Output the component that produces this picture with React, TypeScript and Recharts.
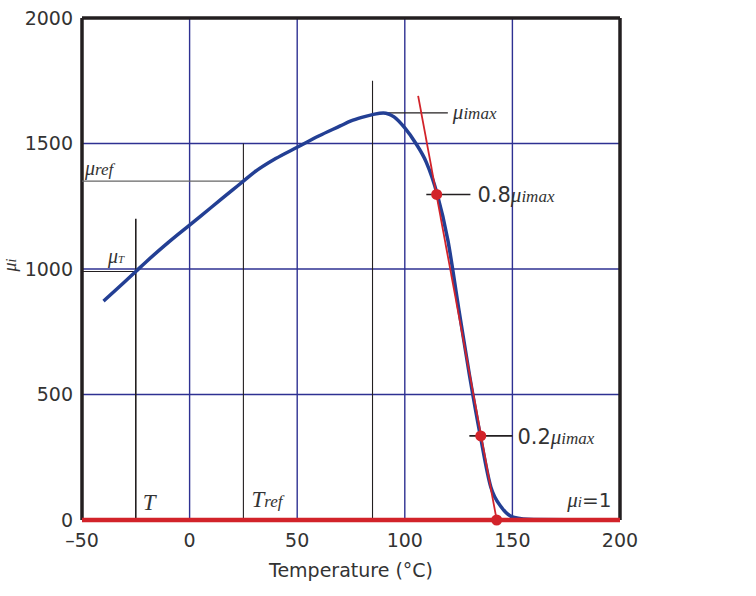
import React from 'react';
import {
  ComposedChart,
  Line,
  XAxis,
  YAxis,
  CartesianGrid,
  ReferenceLine,
  ReferenceDot,
} from 'recharts';

// ---- data ----
const xTicks = [-50, 0, 50, 100, 150, 200];
const yTicks = [0, 500, 1000, 1500, 2000];

const temperature = [-40, -30, -25, -20, -10, 0, 10, 20, 25, 30, 40, 50, 60, 70, 75, 80, 85, 90, 95, 100, 105, 110, 115, 120, 125, 130, 135, 140, 145, 150, 155, 160, 175];
const permeability = [872, 950, 990, 1030, 1105, 1175, 1245, 1315, 1350, 1385, 1440, 1485, 1530, 1570, 1590, 1604, 1615, 1622, 1606, 1562, 1502, 1425, 1300, 1115, 845, 580, 340, 130, 50, 12, 4, 2, 1];

const tangentT = [106.2, 142.7];
const tangentMu = [1690, 0];

const markerT = [114.8, 135.3, 142.7];
const markerMu = [1297, 335, 0];

const muMax = 1622;
const muRef = 1350;
const muAtT = 990;
const tempT = -25;
const tempRef = 25;
const tempMax = 85;

// ---- derived tables ----
const curveData = temperature.map((T, i) => ({ T, mu: permeability[i] }));
const tangentData = tangentT.map((T, i) => ({ T, mu: tangentMu[i] }));
const markers = markerT.map((T, i) => ({ T, mu: markerMu[i] }));

// ---- style ----
const GRID = '#2e3192';
const CURVE = '#233f94';
const RED = '#d2232a';
const BLACK = '#231f20';
const TEXT = '#333333';
const SANS = "'DejaVu Sans', 'Liberation Sans', sans-serif";
const SERIF = "'Liberation Serif', 'DejaVu Serif', serif";

const fmtX = (v: number) => (v < 0 ? '\u2013' + Math.abs(v) : String(v));

const mk = (dx: number, dy: number, render: (x: number, y: number) => React.ReactNode) =>
  (props: any) => {
    const vb = props.viewBox || {};
    return render((vb.x || 0) + dx, (vb.y || 0) + dy);
  };

const Mu = ({ sub, size = 19, subSize = 14 }: { sub: string; size?: number; subSize?: number }) => (
  <>
    <tspan fontSize={size}>{'\u03bc'}</tspan>
    <tspan fontSize={subSize}>{sub}</tspan>
  </>
);

export default function App() {
  return (
    <div style={{ position: 'absolute', left: 0, top: 0, width: 756, height: 596, background: '#fff' }}>
      <ComposedChart
        width={756}
        height={596}
        margin={{ top: 18, right: 136, bottom: 0, left: 0 }}
      >
        <CartesianGrid stroke={GRID} strokeWidth={1.4} />
        <XAxis
          type="number"
          dataKey="T"
          domain={[-50, 200]}
          ticks={xTicks}
          allowDataOverflow
          tickLine={false}
          axisLine={false}
          tickSize={6}
          tickMargin={8}
          height={76}
          tickFormatter={fmtX}
          tick={{ fontFamily: SANS, fontSize: 19, fill: TEXT }}
          label={{
            content: (p: any) => {
              const vb = p.viewBox;
              return (
                <text x={vb.x + vb.width / 2} y={577} textAnchor="middle" fontFamily={SANS} fontSize={19} fill={TEXT}>
                  Temperature (°C)
                </text>
              );
            },
          }}
        />
        <YAxis
          type="number"
          domain={[0, 2000]}
          ticks={yTicks}
          allowDataOverflow
          tickLine={false}
          axisLine={false}
          width={82}
          tickSize={6}
          tickMargin={3}
          tick={{ fontFamily: SANS, fontSize: 19, fill: TEXT }}
          label={{
            content: () => (
              <text
                x={16}
                y={265}
                transform="rotate(-90 16 265)"
                textAnchor="middle"
                fontFamily={SERIF}
                fontStyle="italic"
                fill={TEXT}
              >
                <Mu sub="i" size={18} subSize={14} />
              </text>
            ),
          }}
        />

        {/* frame */}
        <ReferenceLine x={-50} stroke={BLACK} strokeWidth={3.5} />
        <ReferenceLine x={200} stroke={BLACK} strokeWidth={3.5} />
        <ReferenceLine y={2000} stroke={BLACK} strokeWidth={3.5} />

        {/* guide lines */}
        <ReferenceLine segment={[{ x: tempT, y: 0 }, { x: tempT, y: 1200 }]} stroke={BLACK} strokeWidth={1.6} />
        <ReferenceLine segment={[{ x: tempRef, y: 0 }, { x: tempRef, y: 1500 }]} stroke={BLACK} strokeWidth={1.1} />
        <ReferenceLine segment={[{ x: tempMax, y: 0 }, { x: tempMax, y: 1750 }]} stroke={BLACK} strokeWidth={1.1} />
        <ReferenceLine segment={[{ x: -50, y: muAtT }, { x: tempT, y: muAtT }]} stroke={BLACK} strokeWidth={1.2} />
        <ReferenceLine segment={[{ x: -50, y: muRef }, { x: tempRef, y: muRef }]} stroke="#666" strokeWidth={1.2} />
        <ReferenceLine segment={[{ x: 90, y: muMax }, { x: 120, y: muMax }]} stroke={BLACK} strokeWidth={1.4} />
        <ReferenceLine segment={[{ x: 110, y: markerMu[0] }, { x: 130.5, y: markerMu[0] }]} stroke={BLACK} strokeWidth={1.6} />
        <ReferenceLine segment={[{ x: 130, y: markerMu[1] }, { x: 150, y: markerMu[1] }]} stroke={BLACK} strokeWidth={1.6} />

        <Line
          data={curveData}
          dataKey="mu"
          type="monotone"
          stroke={CURVE}
          strokeWidth={3.5}
          dot={false}
          isAnimationActive={false}
        />
        <Line
          data={tangentData}
          dataKey="mu"
          type="linear"
          stroke={RED}
          strokeWidth={1.8}
          dot={false}
          isAnimationActive={false}
        />

        <ReferenceLine y={0} stroke={RED} strokeWidth={4.5} />

        {markers.map((m, i) => (
          <ReferenceDot key={i} x={m.T} y={m.mu} r={5.5} fill={RED} stroke="none" />
        ))}

        {/* text annotations */}
        <ReferenceDot
          x={120}
          y={muMax}
          r={0}
          fill="none"
          stroke="none"
          label={{
            content: mk(5, 6, (x, y) => (
              <text x={x} y={y} fontFamily={SERIF} fontStyle="italic" fill={TEXT}>
                <Mu sub="imax" size={21} subSize={17} />
              </text>
            )),
          }}
        />
        <ReferenceDot
          x={130.5}
          y={markerMu[0]}
          r={0}
          fill="none"
          stroke="none"
          label={{
            content: mk(7, 8, (x, y) => (
              <text x={x} y={y} fill={TEXT}>
                <tspan fontFamily={SANS} fontSize={21}>0.8</tspan>
                <tspan fontFamily={SERIF} fontStyle="italic" fontSize={21}>{'\u03bc'}</tspan>
                <tspan fontFamily={SERIF} fontStyle="italic" fontSize={17}>imax</tspan>
              </text>
            )),
          }}
        />
        <ReferenceDot
          x={150}
          y={markerMu[1]}
          r={0}
          fill="none"
          stroke="none"
          label={{
            content: mk(5, 8, (x, y) => (
              <text x={x} y={y} fill={TEXT}>
                <tspan fontFamily={SANS} fontSize={21}>0.2</tspan>
                <tspan fontFamily={SERIF} fontStyle="italic" fontSize={21}>{'\u03bc'}</tspan>
                <tspan fontFamily={SERIF} fontStyle="italic" fontSize={17}>imax</tspan>
              </text>
            )),
          }}
        />
        <ReferenceDot
          x={175}
          y={0}
          r={0}
          fill="none"
          stroke="none"
          label={{
            content: mk(1, -13, (x, y) => (
              <text x={x} y={y} fill={TEXT}>
                <tspan fontFamily={SERIF} fontStyle="italic" fontSize={21}>{'\u03bc'}</tspan>
                <tspan fontFamily={SERIF} fontStyle="italic" fontSize={15}>i</tspan>
                <tspan fontFamily={SANS} fontSize={20}>=1</tspan>
              </text>
            )),
          }}
        />
        <ReferenceDot
          x={-50}
          y={muRef}
          r={0}
          fill="none"
          stroke="none"
          label={{
            content: mk(3, -6, (x, y) => (
              <text x={x} y={y} fontFamily={SERIF} fontStyle="italic" fill={TEXT}>
                <Mu sub="ref" size={20} subSize={17} />
              </text>
            )),
          }}
        />
        <ReferenceDot
          x={-50}
          y={muAtT}
          r={0}
          fill="none"
          stroke="none"
          label={{
            content: mk(26, -9, (x, y) => (
              <text x={x} y={y} fontFamily={SERIF} fontStyle="italic" fill={TEXT}>
                <Mu sub="T" size={20} subSize={11} />
              </text>
            )),
          }}
        />
        <ReferenceDot
          x={tempT}
          y={0}
          r={0}
          fill="none"
          stroke="none"
          label={{
            content: mk(7, -10, (x, y) => (
              <text x={x} y={y} fontFamily={SERIF} fontStyle="italic" fontSize={23} fill={TEXT}>
                T
              </text>
            )),
          }}
        />
        <ReferenceDot
          x={tempRef}
          y={0}
          r={0}
          fill="none"
          stroke="none"
          label={{
            content: mk(8, -13, (x, y) => (
              <text x={x} y={y} fontFamily={SERIF} fontStyle="italic" fill={TEXT}>
                <tspan fontSize={23}>T</tspan>
                <tspan fontSize={17}>ref</tspan>
              </text>
            )),
          }}
        />
      </ComposedChart>
    </div>
  );
}
